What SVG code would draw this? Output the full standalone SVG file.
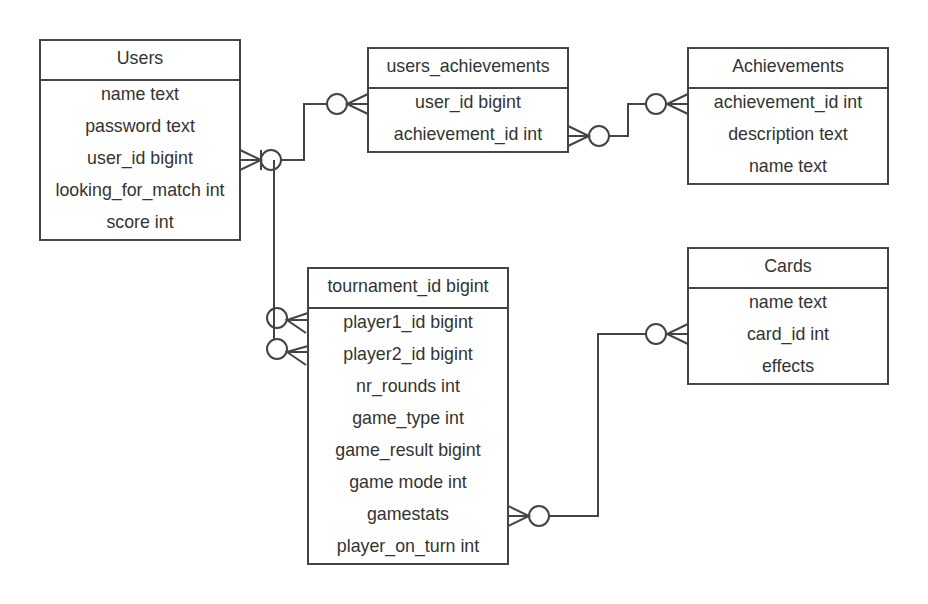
<svg xmlns="http://www.w3.org/2000/svg" width="928" height="604" viewBox="0 0 928 604">
<style>
.box{fill:#fff;stroke:#444;stroke-width:2}
.sep{stroke:#444;stroke-width:2}
text{font-family:"Liberation Sans",Arial,sans-serif;font-size:17.8px;fill:#333;text-anchor:middle}
.c{fill:none;stroke:#444;stroke-width:2}
</style>
<rect width="928" height="604" fill="#fff"/>
<g id="connectors">
  <!-- Users -> users_achievements -->
  <path class="c" d="M240,160 H261 M240,150 L261,160 L240,170 M261,150 V170"/>
  <circle class="c" cx="271" cy="160" r="10"/>
  <path class="c" d="M281,160 H304 V104 H326"/>
  <circle class="c" cx="337" cy="104" r="10"/>
  <path class="c" d="M347,104 H368 M368,94 L347,104 L368,114"/>
  <!-- Users -> tournament player1/player2 -->
  <path class="c" d="M274,160 V339"/>
  <circle class="c" cx="277" cy="318" r="10"/>
  <path class="c" d="M287,320 H308 M308,313 L287,320 L306,333"/>
  <circle class="c" cx="277" cy="349" r="10"/>
  <path class="c" d="M287,352 H308 M308,346 L287,352 L306,365"/>
  <!-- users_achievements -> Achievements -->
  <path class="c" d="M568,136 H589 M568,126 L589,136 L568,146"/>
  <circle class="c" cx="599" cy="136" r="10"/>
  <path class="c" d="M609,136 H628 V104 H646"/>
  <circle class="c" cx="656" cy="104" r="10"/>
  <path class="c" d="M667,104 H688 M688,94 L667,104 L688,114"/>
  <!-- tournament -> Cards -->
  <path class="c" d="M508,516 H529 M508,506 L529,516 L508,526"/>
  <circle class="c" cx="539" cy="516" r="10"/>
  <path class="c" d="M549,516 H598 V334 H646"/>
  <circle class="c" cx="656" cy="334" r="10"/>
  <path class="c" d="M667,334 H688 M688,324 L667,334 L688,344"/>
</g>
<g id="users">
  <rect class="box" x="40" y="40" width="200" height="200"/>
  <line class="sep" x1="40" y1="80" x2="240" y2="80"/>
  <text x="140" y="64">Users</text>
  <text x="140" y="100">name text</text>
  <text x="140" y="132">password text</text>
  <text x="140" y="164">user_id bigint</text>
  <text x="140" y="196">looking_for_match int</text>
  <text x="140" y="228">score int</text>
</g>
<g id="users_achievements">
  <rect class="box" x="368" y="48" width="200" height="104"/>
  <line class="sep" x1="368" y1="88" x2="568" y2="88"/>
  <text x="468" y="72">users_achievements</text>
  <text x="468" y="108">user_id bigint</text>
  <text x="468" y="140">achievement_id int</text>
</g>
<g id="achievements">
  <rect class="box" x="688" y="48" width="200" height="136"/>
  <line class="sep" x1="688" y1="88" x2="888" y2="88"/>
  <text x="788" y="72">Achievements</text>
  <text x="788" y="108">achievement_id int</text>
  <text x="788" y="140">description text</text>
  <text x="788" y="172">name text</text>
</g>
<g id="cards">
  <rect class="box" x="688" y="248" width="200" height="136"/>
  <line class="sep" x1="688" y1="288" x2="888" y2="288"/>
  <text x="788" y="272">Cards</text>
  <text x="788" y="308">name text</text>
  <text x="788" y="340">card_id int</text>
  <text x="788" y="372">effects</text>
</g>
<g id="tournament">
  <rect class="box" x="308" y="268" width="200" height="296"/>
  <line class="sep" x1="308" y1="308" x2="508" y2="308"/>
  <text x="408" y="292">tournament_id bigint</text>
  <text x="408" y="328">player1_id bigint</text>
  <text x="408" y="360">player2_id bigint</text>
  <text x="408" y="392">nr_rounds int</text>
  <text x="408" y="424">game_type int</text>
  <text x="408" y="456">game_result bigint</text>
  <text x="408" y="488">game mode int</text>
  <text x="408" y="520">gamestats</text>
  <text x="408" y="552">player_on_turn int</text>
</g>
</svg>
